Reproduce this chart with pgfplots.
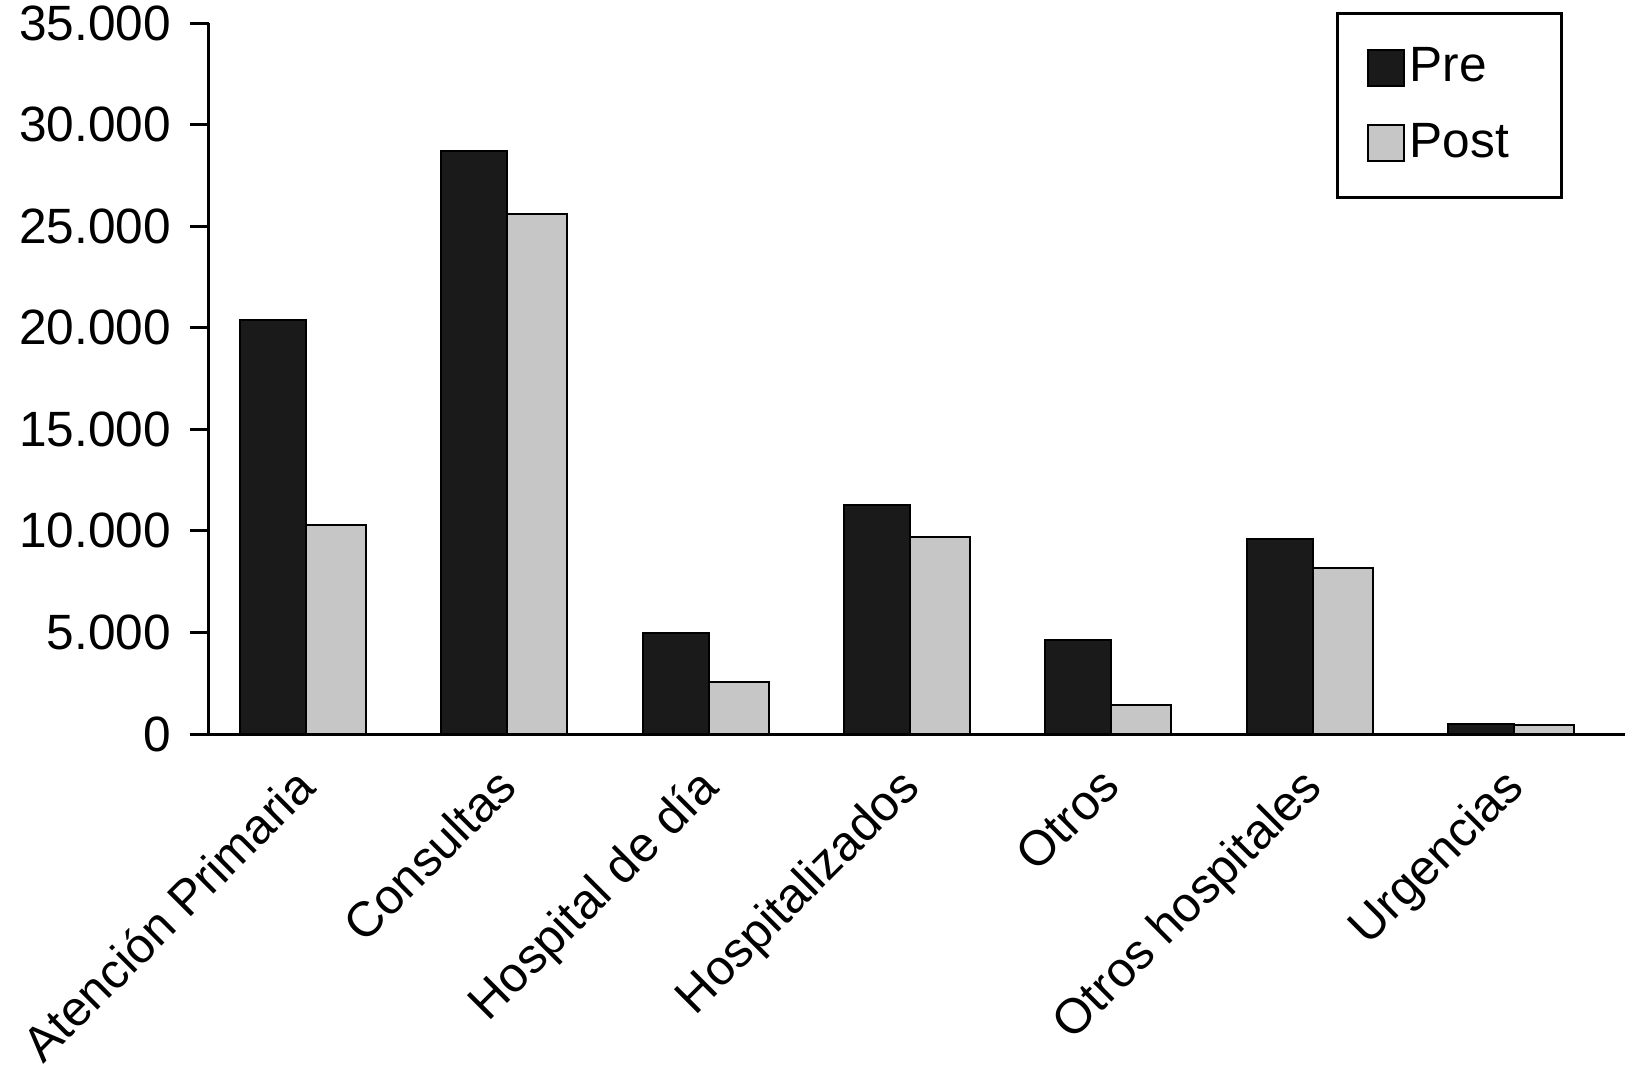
\documentclass[border=0pt]{standalone}
\usepackage{fontspec}
\setmainfont{Liberation Sans}
\usepackage{pgfplots}
\pgfplotsset{compat=1.18}
\definecolor{preblack}{HTML}{1A1A1A}
\definecolor{postgray}{HTML}{C6C6C6}
\newcommand{\lblfont}{\fontsize{12.4}{14.8}\selectfont}
\newcommand{\catfont}{\fontsize{12.3}{14.8}\selectfont}

\begin{document}
\begin{tikzpicture}[x=1pt,y=1pt]
\useasboundingbox (-52.25,-85.5) rectangle (354,183.5);
\begin{axis}[
  at={(0,0)}, anchor=south west,
  scale only axis, width=354pt, height=177.75pt,
  xmin=-0.482, xmax=6.552, ymin=0, ymax=35000,
  axis lines*=left,
  axis line style={line width=0.75pt},
  ybar,
  xtick={0,1,2,3,4,5,6},
  xticklabels={Atención Primaria, Consultas, Hospital de día, Hospitalizados, Otros, Otros hospitales, Urgencias},
  x tick style={draw=none},
  xticklabel style={font=\catfont, xshift=-3.4pt, yshift=2.1pt, rotate=45, anchor=north east},
  ytick={0,5000,...,35000},
  y tick style={line width=0.75pt, black},
  tick align=outside,
  major tick length=4.75pt,
  yticklabel style={font=\lblfont, xshift=-1.2pt},
  scaled y ticks=false,
  /pgf/number format/assume math mode=true,
  /pgf/number format/1000 sep={.},
  legend style={at={(0.956,1.016)}, anchor=north east, draw=black,
    line width=0.75pt, font=\lblfont, inner xsep=7.4pt, inner ysep=6.6pt,
    row sep=4.8pt},
  legend cell align=left,
  legend image code/.code={\draw[#1, line width=0.5pt] (0pt,-4.5pt) rectangle (9pt,4.5pt);},
]
% Pre
\addplot[fill=preblack, draw=black, line width=0.5pt, bar width=0.328, bar shift=-0.164]
  coordinates {(0,20400) (1,28700) (2,4950) (3,11250) (4,4650) (5,9600) (6,480)};
\addlegendentry{\hspace*{-0.8pt}\makebox[28.5pt][l]{Pre}}
% Post
\addplot[fill=postgray, draw=black, line width=0.5pt, bar width=0.298, bar shift=0.149]
  coordinates {(0,10300) (1,25600) (2,2550) (3,9700) (4,1450) (5,8150) (6,460)};
\addlegendentry{\hspace*{-0.8pt}\makebox[28.5pt][l]{Post}}
\end{axis}
\end{tikzpicture}
\end{document}
